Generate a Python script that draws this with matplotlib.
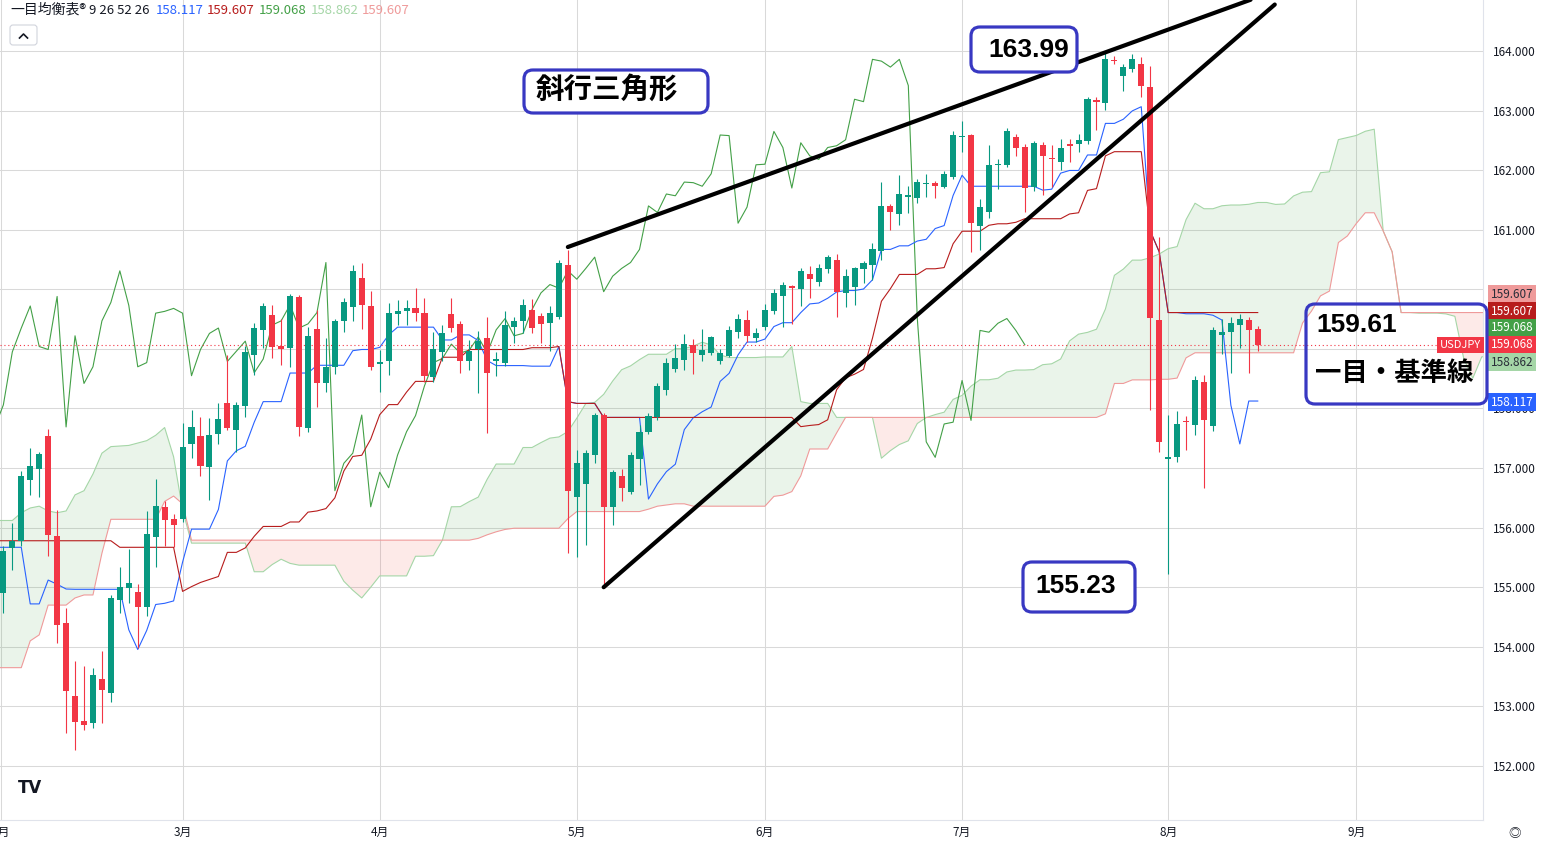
import numpy as np
import matplotlib
matplotlib.use("Agg")
import matplotlib.pyplot as plt
from matplotlib.patches import FancyBboxPatch
from matplotlib.transforms import IdentityTransform
from matplotlib.lines import Line2D

plt.rcParams['font.family'] = ['Noto Sans CJK JP', 'DejaVu Sans']

# ---------------- data (daily bars, index 1..141) ----------------
opens = [154.90, 155.65, 155.78, 156.80, 156.98, 157.53, 155.86, 154.40, 153.17, 152.75,
         152.72, 153.46, 153.23, 154.79, 154.99, 154.92, 154.67, 155.85, 156.35, 156.15,
         156.15, 157.40, 157.54, 157.01, 157.57, 158.09, 157.64, 158.05, 158.90, 159.32,
         159.57, 159.05, 159.02, 159.87, 157.68, 159.33, 158.42, 158.69, 159.46, 159.71,
         160.19, 159.72, 158.75, 158.79, 159.58, 159.63, 159.68, 159.60, 158.53, 158.94,
         159.59, 159.42, 158.79, 158.99, 159.18, 158.80, 158.77, 159.36, 159.47, 159.66,
         159.55, 159.43, 159.54, 160.41, 156.51, 156.74, 157.22, 157.89, 156.34, 156.87,
         156.60, 157.15, 157.61, 157.86, 158.31, 158.66, 158.81, 159.06, 158.90, 158.93,
         158.80, 158.88, 159.29, 159.48, 159.19, 159.36, 159.64, 159.88, 160.06, 160.01,
         160.26, 160.13, 160.34, 160.49, 159.93, 160.04, 160.34, 160.41, 160.65, 161.40,
         161.26, 161.55, 161.53, 161.76, 161.78, 161.72, 161.89, 162.55, 162.59, 161.07,
         161.29, 162.08, 162.09, 162.56, 162.39, 161.72, 162.42, 162.20, 162.14, 162.42,
         162.44, 162.49, 163.17, 163.12, 163.85, 163.58, 163.69, 163.78, 163.39, 159.49,
         157.16, 157.19, 157.79, 157.72, 158.45, 157.71, 159.23, 159.28, 159.40, 159.49,
         159.33]
highs = [155.70, 156.07, 156.95, 157.34, 157.27, 157.66, 156.30, 154.65, 153.76, 153.67,
         153.64, 153.93, 154.87, 155.34, 155.64, 155.05, 156.28, 156.82, 156.44, 156.23,
         157.76, 157.97, 157.86, 157.84, 158.09, 158.90, 158.11, 159.05, 159.44, 159.77,
         159.74, 159.50, 159.92, 159.90, 159.37, 159.65, 159.18, 159.51, 159.86, 160.41,
         160.45, 159.97, 158.98, 159.77, 159.82, 159.82, 160.02, 159.85, 159.29, 159.40,
         159.85, 159.46, 159.15, 159.30, 159.54, 158.95, 159.64, 159.54, 159.83, 159.83,
         159.60, 159.72, 160.49, 160.66, 157.30, 157.30, 157.92, 157.92, 156.97, 156.98,
         157.27, 157.72, 157.92, 158.43, 158.84, 159.09, 159.25, 159.16, 159.33, 159.22,
         159.00, 159.38, 159.58, 159.65, 159.35, 159.75, 160.00, 160.13, 160.07, 160.35,
         160.39, 160.42, 160.58, 160.59, 160.34, 160.38, 160.48, 160.78, 161.80, 161.44,
         161.92, 161.73, 161.85, 161.94, 161.81, 161.98, 162.66, 162.83, 162.60, 161.52,
         162.42, 162.18, 162.70, 162.61, 162.44, 162.49, 162.48, 162.42, 162.52, 162.53,
         162.60, 163.22, 163.22, 163.99, 163.92, 163.79, 163.95, 163.90, 163.74, 160.88,
         157.89, 157.96, 157.87, 158.55, 158.57, 159.37, 159.50, 159.54, 159.58, 159.54,
         159.38]
lows = [154.57, 155.29, 155.70, 156.54, 156.52, 155.53, 154.06, 152.56, 152.27, 152.60,
        152.64, 152.72, 153.08, 154.56, 154.74, 153.98, 154.52, 155.34, 155.70, 155.68,
        156.10, 157.17, 156.86, 156.46, 157.40, 157.64, 157.27, 157.86, 158.56, 159.01,
        158.84, 158.73, 158.70, 157.53, 157.60, 158.02, 158.28, 158.58, 159.29, 159.47,
        159.33, 158.65, 158.28, 158.56, 159.40, 159.40, 159.47, 158.45, 158.45, 158.80,
        159.29, 158.60, 158.65, 158.26, 157.59, 158.55, 158.72, 159.10, 159.27, 159.27,
        159.10, 158.97, 159.51, 155.57, 155.51, 155.71, 157.08, 155.04, 156.04, 156.44,
        156.56, 156.72, 157.58, 157.80, 158.22, 158.62, 158.65, 158.58, 158.80, 158.90,
        158.75, 158.87, 159.18, 159.12, 159.12, 159.32, 159.58, 159.37, 159.42, 159.72,
        159.85, 160.05, 160.28, 159.54, 159.70, 159.74, 160.10, 160.16, 160.49, 161.00,
        161.08, 161.28, 161.45, 161.55, 161.54, 161.70, 161.85, 162.30, 160.63, 160.66,
        161.20, 161.68, 162.05, 162.24, 161.29, 161.65, 161.58, 161.72, 162.00, 162.14,
        162.30, 162.44, 162.67, 163.01, 163.78, 163.33, 163.64, 163.23, 157.97, 157.27,
        155.23, 157.10, 157.30, 157.56, 156.67, 157.63, 158.91, 158.59, 159.02, 158.60,
        158.96]
closes = [155.61, 155.78, 156.87, 157.03, 157.24, 155.88, 154.37, 153.26, 152.73, 152.69,
          153.53, 153.27, 154.82, 155.00, 155.07, 154.67, 155.89, 156.36, 156.12, 156.04,
          157.36, 157.69, 157.04, 157.55, 157.82, 157.67, 158.06, 158.95, 159.35, 159.72,
          159.04, 158.99, 159.88, 157.69, 159.22, 158.42, 158.70, 159.47, 159.78, 160.31,
          159.73, 158.70, 158.77, 159.60, 159.63, 159.68, 159.60, 158.55, 158.99, 159.26,
          159.35, 158.79, 158.96, 159.13, 158.60, 158.83, 159.40, 159.47, 159.74, 159.35,
          159.42, 159.61, 160.45, 156.62, 157.08, 157.25, 157.89, 156.35, 156.93, 156.67,
          157.22, 157.61, 157.88, 158.38, 158.77, 158.84, 159.08, 158.93, 158.98, 159.20,
          158.93, 159.32, 159.51, 159.22, 159.26, 159.66, 159.94, 160.08, 160.02, 160.31,
          160.17, 160.35, 160.54, 159.96, 160.22, 160.35, 160.45, 160.67, 161.40, 161.29,
          161.60, 161.57, 161.80, 161.79, 161.73, 161.94, 162.59, 162.58, 161.11, 161.38,
          162.09, 162.10, 162.65, 162.38, 161.70, 162.46, 162.24, 162.18, 162.38, 162.41,
          162.51, 163.19, 163.15, 163.86, 163.83, 163.73, 163.86, 163.42, 159.52, 157.44,
          157.18, 157.74, 157.77, 158.47, 157.80, 159.31, 159.28, 159.43, 159.51, 159.31,
          159.07]

# Ichimoku values before the visible window allows computing them (index 0..)
tenkan_early = [155.67, 155.67, 155.67, 155.67, 154.72, 154.72, 155.12, 155.05, 154.97]
kijun_early = [155.78, 155.78, 155.78, 155.78, 155.78, 155.78, 155.78, 155.78, 155.78, 155.78,
               155.78, 155.78, 155.78, 155.78, 155.67, 155.67, 155.67, 155.67, 155.67, 155.67,
               155.67, 154.93, 155.01, 155.08, 155.13, 155.18]
spanA_early = [156.12, 156.12, 156.12, 156.25, 156.33, 156.36, 156.28, 156.25, 156.28, 156.55,
               156.62, 156.90, 157.25, 157.36, 157.37, 157.38, 157.42, 157.46, 157.55, 157.68,
               157.19, 156.30, 155.74, 155.74, 155.74, 155.74, 155.74, 155.74, 155.74, 155.26,
               155.26, 155.38, 155.47, 155.40, 155.37, 155.37, 155.37, 155.37, 155.37, 155.10,
               154.95, 154.82, 155.00, 155.19, 155.19, 155.19, 155.19, 155.52, 155.52, 155.53,
               155.79, 156.35]
spanB_early = [153.65, 153.65, 153.65, 153.65, 154.10, 154.20, 154.70, 154.70, 154.70, 154.82,
               154.87, 154.87, 155.57, 156.14, 156.14, 156.14, 156.14, 156.14, 156.14, 156.44,
               156.53, 156.40, 155.79, 155.79, 155.79, 155.79, 155.79, 155.79, 155.79, 155.79,
               155.79, 155.79, 155.79, 155.79, 155.79, 155.79, 155.79, 155.79, 155.79, 155.79,
               155.79, 155.79, 155.79, 155.79, 155.79, 155.79, 155.79, 155.79, 155.79, 155.79,
               155.79, 155.79, 155.79, 155.79, 155.82, 155.88, 155.93, 155.97, 155.99, 155.99,
               155.99, 155.99, 155.99, 155.99, 156.15, 156.27, 156.27, 156.27, 156.27, 156.27,
               156.27, 156.27, 156.27, 156.31, 156.36, 156.38, 156.40, 156.40]

legend_title = "一目均衡表®"
legend_params = "9 26 52 26"
legend_values = [158.117, 159.607, 159.068, 158.862, 159.607]   # tenkan, kijun, chikou, spanA, spanB
symbol = "USDJPY"

month_pos = [0.7, 21, 43, 65, 86, 108, 131, 152]
month_labels = ["2月", "3月", "4月", "5月", "6月", "7月", "8月", "9月"]
price_ticks = [152, 153, 154, 155, 156, 157, 158, 159, 160, 161, 162, 163, 164]

tri_upper = [(64, 160.71), (140.2, 164.86)]
tri_lower = [(68, 155.00), (142.9, 164.78)]

# ---------------- style ----------------
GREEN = '#089981'
RED = '#F23645'
C_TENKAN = '#2962FF'
C_KIJUN = '#B71C1C'
C_CHIKOU = '#43A047'
C_SPANA = '#A5D6A7'
C_SPANB = '#EF9A9A'
BOXC = '#3838C2'
TXT = '#131722'
NUMFONT = ['Liberation Sans', 'DejaVu Sans']

W, HP = 1549, 846
fig = plt.figure(figsize=(W / 100, HP / 100), dpi=100)
ax = fig.add_axes([0, 26 / HP, 1483 / W, 820 / HP])
ax.set_xlim(0.625, 166.14)
ax.set_ylim(151.093, 164.856)

# ---------------- arrays ----------------
N = len(opens) + 1
O = np.full(N, np.nan); Hh = np.full(N, np.nan); L = np.full(N, np.nan); C = np.full(N, np.nan)
O[1:] = opens; Hh[1:] = highs; L[1:] = lows; C[1:] = closes

tenkan = np.full(N, np.nan)
tenkan[:len(tenkan_early)] = tenkan_early
for i in range(len(tenkan_early), N):
    tenkan[i] = (np.max(Hh[i - 8:i + 1]) + np.min(L[i - 8:i + 1])) / 2
kijun = np.full(N, np.nan)
kijun[:len(kijun_early)] = kijun_early
for i in range(len(kijun_early), N):
    kijun[i] = (np.max(Hh[i - 25:i + 1]) + np.min(L[i - 25:i + 1])) / 2

M = N + 26
spanA = np.full(M, np.nan)
spanA[:len(spanA_early)] = spanA_early
for j in range(len(spanA_early), M):
    spanA[j] = (tenkan[j - 26] + kijun[j - 26]) / 2
spanB = np.full(M, np.nan)
spanB[:len(spanB_early)] = spanB_early
for j in range(len(spanB_early), M):
    e = j - 26
    spanB[j] = (np.max(Hh[e - 51:e + 1]) + np.min(L[e - 51:e + 1])) / 2

xs = np.arange(M)
ax.fill_between(xs, spanA, spanB, where=spanA >= spanB, interpolate=True,
                color='#43A047', alpha=0.11, lw=0, zorder=1)
ax.fill_between(xs, spanA, spanB, where=spanA < spanB, interpolate=True,
                color='#F44336', alpha=0.11, lw=0, zorder=1)
ax.plot(xs, spanA, color=C_SPANA, lw=0.8, zorder=2)
ax.plot(xs, spanB, color=C_SPANB, lw=0.8, zorder=2)

bx = np.arange(N)
ax.plot(bx[26:] - 26, C[26:], color=C_CHIKOU, lw=0.8, zorder=3)
ax.plot(bx, tenkan, color=C_TENKAN, lw=0.8, zorder=3)
ax.plot(bx, kijun, color=C_KIJUN, lw=0.8, zorder=3)

# candles
cx = bx[1:]
o, h, l, c = O[1:], Hh[1:], L[1:], C[1:]
cols = np.where(c >= o, GREEN, RED)
ax.vlines(cx, l, h, colors=cols, lw=0.8, zorder=4)
ax.bar(cx, np.maximum(np.abs(c - o), 0.025), bottom=np.minimum(o, c), width=0.68,
       color=cols, edgecolor='none', zorder=5)

# current price dotted line
ax.axhline(closes[-1], color=RED, lw=0.8, ls=(0, (1, 2.5)), zorder=3)

# trend lines (wedge)
for seg in (tri_upper, tri_lower):
    ax.plot([seg[0][0], seg[1][0]], [seg[0][1], seg[1][1]], color='black', lw=3.0,
            solid_capstyle='round', zorder=7)

# grid / axes
ax.set_yticks(price_ticks)
ax.set_yticklabels([f"{v:.3f}" for v in price_ticks])
ax.yaxis.tick_right()
ax.tick_params(axis='y', length=0, pad=7, labelsize=8.5, labelcolor=TXT)
ax.set_xticks(month_pos)
ax.set_xticklabels(month_labels)
ax.tick_params(axis='x', length=0, pad=4, labelsize=8.5, labelcolor=TXT)
ax.grid(True, color='#d9d9d9', lw=0.75, zorder=0)
ax.set_axisbelow(True)
for s in ('top', 'left'):
    ax.spines[s].set_visible(False)
ax.spines['right'].set_color('#e0e3eb')
ax.spines['bottom'].set_color('#e0e3eb')

# right-axis price tags
tag_specs = [
    (legend_values[4], 18.7, C_SPANB, '#2a2e39'),
    (legend_values[1], 1.7, C_KIJUN, 'white'),
    (legend_values[2], 17.0, C_CHIKOU, 'white'),
    (closes[-1], 0.0, RED, 'white'),
    (legend_values[3], -5.0, C_SPANA, '#2a2e39'),
    (legend_values[0], -0.5, C_TENKAN, 'white'),
]
for k, (val, dy, bg, fg) in enumerate(tag_specs):
    txt = f"{legend_values[2]:.3f}" if k == 3 else f"{val:.3f}"
    ax.annotate(txt, xy=(1491, val), xycoords=('figure pixels', 'data'),
                xytext=(0, dy), textcoords='offset pixels', ha='left', va='center',
                fontsize=8.5, color=fg, annotation_clip=False, zorder=10,
                bbox=dict(boxstyle='square,pad=0.22', fc=bg, ec='none'))
ax.annotate(symbol, xy=(1481, closes[-1]), xycoords=('figure pixels', 'data'),
            ha='right', va='center', fontsize=8, color='white', annotation_clip=False,
            zorder=10, bbox=dict(boxstyle='square,pad=0.25', fc=RED, ec='none'))


def ftxt(xp, yp, s, **kw):
    return fig.text(xp / W, 1 - yp / HP, s, **kw)


# legend line
ftxt(10, 10, legend_title, fontsize=10, color=TXT, va='center')
ftxt(89, 10, legend_params, fontsize=9.5, color=TXT, va='center')
leg_cols = [C_TENKAN, C_KIJUN, C_CHIKOU, C_SPANA, C_SPANB]
leg_x = [156, 207, 259, 311, 362]
for v, cc, xp in zip(legend_values, leg_cols, leg_x):
    ftxt(xp, 10, f"{v:.3f}", fontsize=9.5, color=cc, va='center')

# collapse button
fig.add_artist(FancyBboxPatch((10, HP - 45), 27, 20, boxstyle='round,pad=0,rounding_size=3',
                              transform=IdentityTransform(), fc='white', ec='#d1d4dc', lw=0.8))
fig.add_artist(Line2D([19.5, 23.5, 27.5], [HP - 38, HP - 34, HP - 38], transform=IdentityTransform(),
                      color=TXT, lw=1.2))

# annotation boxes


def box(x0, y0, x1, y1, fill):
    fig.add_artist(FancyBboxPatch((x0, HP - y1), x1 - x0, y1 - y0,
                                  boxstyle='round,pad=0,rounding_size=9',
                                  transform=IdentityTransform(), fc=fill, ec=BOXC, lw=2.3, zorder=6))


box(971, 27, 1077, 72, 'white')
ftxt(1029, 50, "163.99", fontsize=19, fontweight='bold', color='black', ha='center', va='center',
     family=NUMFONT, zorder=7)
box(524, 70, 708, 113, 'white')
ftxt(607, 90, "斜行三角形", fontsize=20.5, fontweight='bold', color='black', ha='center', va='center', zorder=7)
box(1023, 562, 1135, 612, 'white')
ftxt(1076, 586, "155.23", fontsize=19, fontweight='bold', color='black', ha='center', va='center',
     family=NUMFONT, zorder=7)
box(1306, 304, 1487, 404, 'none')
ftxt(1316, 325, "159.61", fontsize=19, fontweight='bold', color='black', ha='left', va='center',
     family=NUMFONT, zorder=7)
ftxt(1315, 373, "一目・基準線", fontsize=19, fontweight='bold', color='black', ha='left', va='center', zorder=7)

# logo and settings icon
ftxt(18, 788, "TV", fontsize=12, fontweight='bold', color=TXT, va='center', family=['DejaVu Sans'])
ftxt(1515, 833, "◎", fontsize=9, color=TXT, ha='center', va='center')

fig.savefig("out.png", dpi=100)
